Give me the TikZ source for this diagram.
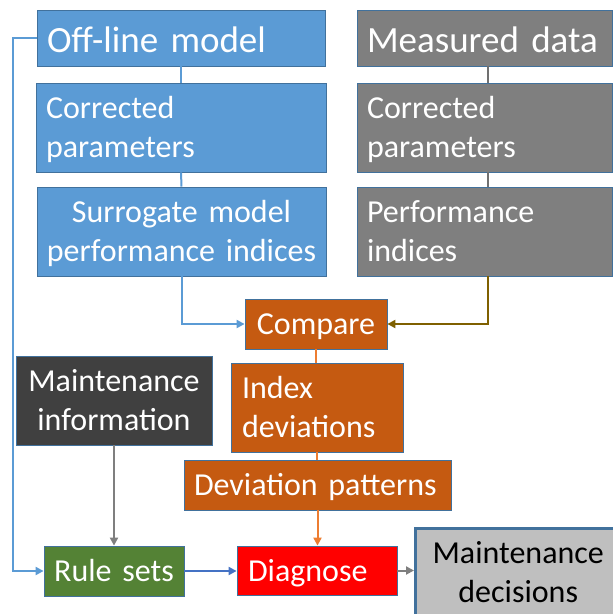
\documentclass[tikz,border=0pt]{standalone}
\usepackage{fontspec}
\setmainfont{Carlito}
\usetikzlibrary{arrows.meta}
\definecolor{boxline}{HTML}{41719C}
\definecolor{modelblue}{HTML}{5B9BD5}
\definecolor{datagray}{HTML}{7F7F7F}
\definecolor{linkgray}{HTML}{707070}
\definecolor{rust}{HTML}{C55A11}
\definecolor{rustlink}{HTML}{ED7D31}
\definecolor{olive}{HTML}{7F6000}
\definecolor{charcoal}{HTML}{404040}
\definecolor{leaf}{HTML}{548235}
\definecolor{ruleblue}{HTML}{4472C4}
\definecolor{pale}{HTML}{BFBFBF}
% line struts: fixed height and depth so every line sits alike
\newcommand\ls{\rule[-9pt]{0pt}{39pt}}
\newcommand\lsbig{\rule[-8pt]{0pt}{44pt}}
\begin{document}
\begin{tikzpicture}[x=1pt,y=-1pt,
  box/.style={draw=boxline, line width=0.8pt, inner xsep=10pt, inner ysep=0pt,
    text=white, font=\fontsize{32}{39}\selectfont},
  big/.style={font=\fontsize{37}{44}\selectfont},
  link/.style={line width=2pt},
  tip/.style={-{Triangle[length=8pt,width=8pt]}}
]
\useasboundingbox (0,0) rectangle (613,614);
\fill[white] (0,0) rectangle (613,614);

% model branch
\node[box, big, fill=modelblue, minimum width=288pt, minimum height=56pt,
  text width=268pt, align=left] (offline) at (181,38) {\lsbig Off-line model};
\node[box, fill=modelblue, minimum width=290pt, minimum height=89pt,
  text width=270pt, align=left] (cpb) at (181,127.5) {\ls Corrected\\\ls parameters};
\node[box, fill=modelblue, minimum width=289pt, minimum height=89pt,
  inner xsep=4pt, text width=281pt, align=center] (surr) at (181.5,231.5)
  {\ls Surrogate model\\\ls performance indices};

% measurement branch
\node[box, big, fill=datagray, minimum width=255pt, minimum height=56pt,
  text width=235pt, align=left] (meas) at (484.5,38) {\lsbig Measured data};
\node[box, fill=datagray, minimum width=255pt, minimum height=89pt,
  text width=235pt, align=left] (cpg) at (484.5,127.5) {\ls Corrected\\\ls parameters};
\node[box, fill=datagray, minimum width=255pt, minimum height=89pt,
  text width=235pt, align=left] (perf) at (484.5,231.5) {\ls Performance\\\ls indices};

% comparison chain
\node[box, fill=rust, minimum width=142pt, minimum height=50pt,
  text width=122pt, align=center] (compare) at (316,324) {\ls Compare};
\node[box, fill=rust, minimum width=172pt, minimum height=89pt,
  inner xsep=11pt, text width=150pt, align=left] (index) at (317,407.5)
  {\ls Index\\\ls deviations};
\node[box, fill=rust, minimum width=267pt, minimum height=50pt,
  text width=247pt, align=left] (devpat) at (317.5,485) {\ls Deviation patterns};

% diagnosis
\node[box, fill=charcoal, minimum width=196pt, minimum height=89pt,
  inner xsep=4pt, text width=188pt, align=center] (maint) at (114,400.5)
  {\ls Maintenance\\\ls information};
\node[box, fill=leaf, minimum width=140pt, minimum height=50pt,
  inner xsep=4pt, text width=132pt, align=center] (rules) at (114,571) {\ls Rule sets};
\node[box, fill=red, minimum width=160pt, minimum height=49pt,
  inner xsep=11pt, text width=138pt, align=left] (diag) at (317,570.5) {\ls Diagnose};
\node[box, fill=pale, text=black, line width=2.5pt, anchor=north west,
  minimum width=206pt, minimum height=88pt, inner xsep=4pt, text width=198pt,
  align=center] (decis) at (414,527) {\ls Maintenance\\\ls decisions};

% connectors
\draw[link, modelblue] (offline) -- (cpb);
\draw[link, modelblue] (cpb) -- (surr);
\draw[link, linkgray] ([xshift=3.5pt]meas.south) -- ([xshift=3.5pt]cpg.north);
\draw[link, linkgray] ([xshift=3.5pt]cpg.south) -- ([xshift=3.5pt]perf.north);
\draw[link, modelblue, tip] (surr.south) |- (compare.west);
\draw[link, olive, tip] ([xshift=3.5pt]perf.south) |- (compare.east);
\draw[link, rustlink] (compare.south) -- (compare.south |- index.north);
\draw[link, rustlink] (index.south) -- (index.south |- devpat.north);
\draw[link, rustlink, tip] (devpat.south) -- (devpat.south |- diag.north);
\draw[link, datagray, tip] (maint.south) -- (maint.south |- rules.north);
\draw[link, modelblue, tip] (offline.west) -- ++(-24,0) |- (rules.west);
\draw[link, ruleblue, tip] (rules.east) -- (rules.east -| diag.west);
\draw[link, datagray, tip] (diag.east) -- (diag.east -| decis.west);
\end{tikzpicture}
\end{document}
